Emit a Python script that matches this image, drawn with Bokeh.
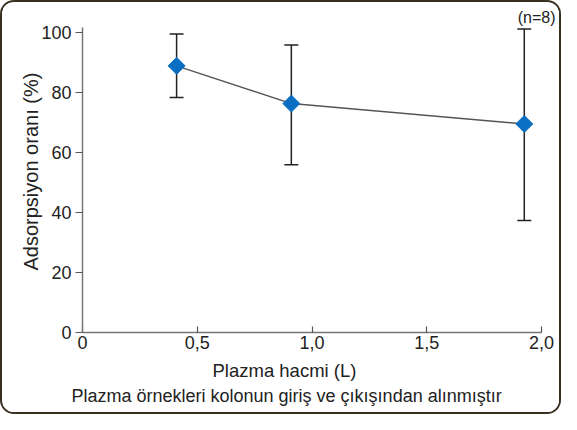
import math
from bokeh.plotting import figure
from bokeh.models import Range1d, FixedTicker, Title, ColumnDataSource
from bokeh.embed import file_html
from bokeh.resources import INLINE

# ---- data ----
volume = [0.41, 0.91, 1.925]          # Plazma hacmi (L)
adsorption = [89.0, 76.4, 69.6]       # Adsorpsiyon oranı (%)
err_upper = [99.6, 96.0, 101.3]
err_lower = [78.4, 56.0, 37.4]
x_ticks = [0, 0.5, 1.0, 1.5, 2.0]
x_tick_labels = ["0", "0,5", "1,0", "1,5", "2,0"]
y_ticks = [0, 20, 40, 60, 80, 100]

FONT = "Liberation Sans"
TXT = "#222222"

W, H = 561, 414
ML, MR, MT, MB = 80, 22, 25, 84

p = figure(width=W, height=H, output_backend="svg", toolbar_location=None,
           x_range=Range1d(0, 2.0), y_range=Range1d(0, 101.8),
           min_border_left=ML, min_border_right=MR, min_border_top=MT, min_border_bottom=MB)
p.border_fill_color = "white"
p.background_fill_color = "white"
p.outline_line_color = None
p.grid.visible = False
p.styles = {"border": "2px solid #3a3020", "border-radius": "14px", "overflow": "hidden",
            "box-sizing": "border-box"}

src = ColumnDataSource(dict(x=volume, y=adsorption, up=err_upper, lo=err_lower))

p.line("x", "y", source=src, line_color="#555555", line_width=1.5)
p.segment(x0="x", y0="lo", x1="x", y1="up", source=src, line_color="#222222", line_width=1.5)
p.scatter("x", "up", source=src, marker="dash", size=14, line_color="#222222", line_width=1.5)
p.scatter("x", "lo", source=src, marker="dash", size=14, line_color="#222222", line_width=1.5)
p.scatter("x", "y", source=src, marker="square", angle=math.pi / 4, size=12,
          fill_color="#0a6fc2", line_color="#0a6fc2", line_width=1)

# axes
for ax in (p.xaxis[0], p.yaxis[0]):
    ax.axis_line_color = "#777777"
    ax.axis_line_width = 1.5
    ax.major_tick_line_color = "#555555"
    ax.major_tick_line_width = 1.2
    ax.minor_tick_line_color = None
    ax.major_label_text_font = FONT
    ax.major_label_text_font_size = "18px"
    ax.major_label_text_color = TXT

p.xaxis.ticker = FixedTicker(ticks=x_ticks)
p.xaxis.major_label_overrides = {t: l for t, l in zip(x_ticks, x_tick_labels)}
p.xaxis.major_tick_in = 6
p.xaxis.major_tick_out = 0
p.xaxis.major_label_standoff = 3
# small spacer between tick labels and the axis titles below
p.xaxis.axis_label = " "
p.xaxis.axis_label_text_font_size = "1px"
p.xaxis.axis_label_standoff = 1

p.yaxis.ticker = FixedTicker(ticks=y_ticks)
p.yaxis.major_tick_in = 0
p.yaxis.major_tick_out = 7
p.yaxis.major_label_standoff = 4

def title(text, size, align, offset, standoff, valign="bottom"):
    return Title(text=text, align=align, offset=offset, standoff=standoff, vertical_align=valign,
                 text_font=FONT, text_font_size=size, text_color=TXT, text_font_style="normal")

p.add_layout(title("Plazma hacmi (L)", "18.5px", "left", 130, 2), "below")
p.add_layout(title("Plazma örnekleri kolonun giriş ve çıkışından alınmıştır", "18px", "left", -11, 4), "below")
p.add_layout(title("Adsorpsiyon oranı (%)", "20px", "left", 62, -6), "left")
n_title = title("(n=8)", "16px", "right", -14, 0, "top")
n_title.text_line_height = 1.45
p.add_layout(n_title, "above")

open("out.html", "w").write(file_html(p, INLINE))
